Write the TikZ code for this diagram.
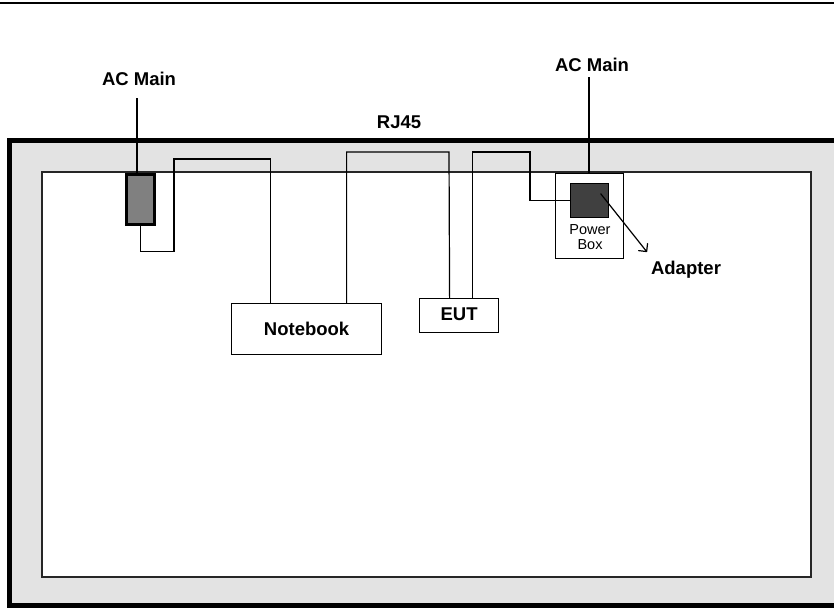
\documentclass[tikz,border=0pt]{standalone}
\usepackage{fontspec}
\setmainfont{Liberation Sans}
\usetikzlibrary{arrows.meta}

\begin{document}
\begin{tikzpicture}[
  x=1pt, y=-1pt,
  line cap=butt,
  line join=miter,
  wire/.style={
    line width=1.2pt,
    draw=black
  },
  box/.style={
    draw,
    line width=1.2pt,
    fill=white,
    inner sep=0pt,
    anchor=north west
  },
  lbl/.style={
    font=\fontsize{18.5}{20}\selectfont\bfseries,
    inner sep=0pt
  },
  small/.style={
    font=\fontsize{14.5}{15}\selectfont,
    align=center,
    inner sep=0pt
  }
]
\useasboundingbox (0,0) rectangle (834,608);
\clip (0,0) rectangle (834,608);

% Frame
\draw[line width=2.5pt] (0,3) -- (834,3);
\draw[line width=4.5pt, fill=black!11] (860,140.5) -- (9.5,140.5) -- (9.5,605.5) -- (860,605.5);
\draw[line width=1.4pt, draw=black!85, fill=white] (42,172) rectangle (811,577);

% Main nodes
\node[box, fill=black!50, line width=2.6pt, minimum width=28pt, minimum height=50pt] (plug) at (125,173) {};
\node[box, minimum width=150pt, minimum height=51pt] (nb)  at (231,303) {};
\node[box, minimum width=79pt,  minimum height=34pt] (eut) at (419,298) {};
\node[box, minimum width=68pt,  minimum height=85pt] (pb)  at (555,173) {};
\node[box, fill=black!75, minimum width=38pt, minimum height=34pt] (sq) at (570,183) {};

% Texts
\node[lbl] at (nb.center) {Notebook};
\node[lbl] at ([yshift=1pt]eut.center) {EUT};
\node[small] (pbtxt) at (590,237) {Power\\Box};
\node[lbl] (acl) at (139,79) {AC Main};
\node[lbl] (acr) at (592,65) {AC Main};
\node[lbl] (rj) at (399,122) {RJ45};
\node[lbl] (ad) at (686,270) {Adapter};

% Wires
\coordinate (lin)  at (137,98);
\coordinate (rin)  at (589,77);
\coordinate (atip) at (647,252);

\draw[wire] (lin) -- (lin |- plug.north);
\draw[wire] (plug.south) -- ++(0,26) -| (174,159) -| ([xshift=-36pt]nb.north);
\draw[wire] ([xshift=40pt]nb.north) |- (449,152) -- ([xshift=-9.5pt]eut.north);
\draw[wire] ([xshift=13.5pt]eut.north) |- (530,152) |- (sq.west);
\draw[wire] (rin) -- (rin |- pb.north);
\draw[wire, -{Straight Barb[angle=90:8pt, round=false]}] ([xshift=11pt,yshift=7pt]sq.center) -- (atip);

\end{tikzpicture}
\end{document}
